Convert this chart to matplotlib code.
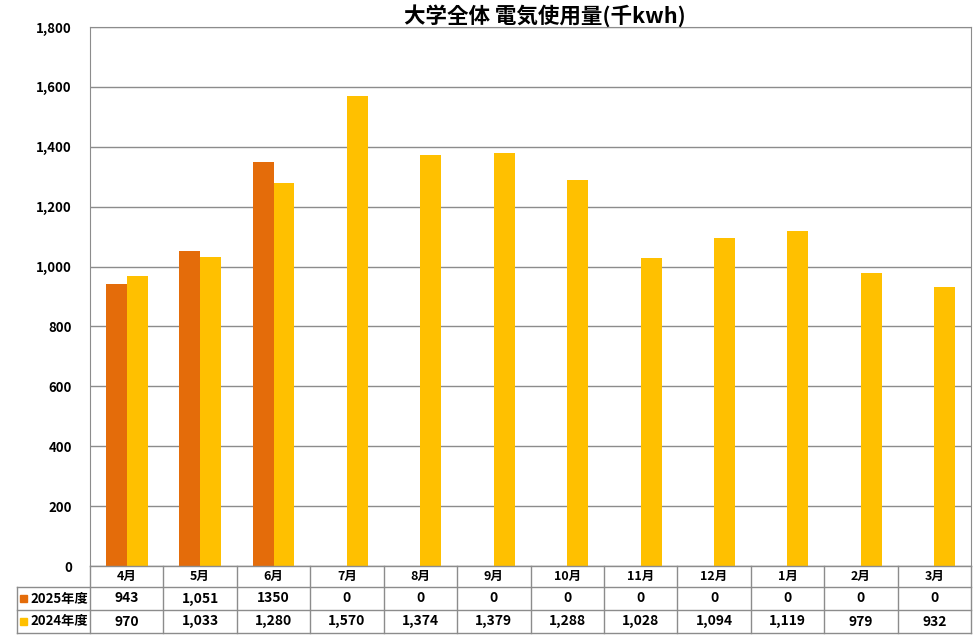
import matplotlib
matplotlib.use('Agg')
import matplotlib.pyplot as plt
import numpy as np

plt.rcParams['font.family'] = ['Noto Sans CJK JP', 'DejaVu Sans']

months = ['4月', '5月', '6月', '7月', '8月', '9月', '10月', '11月', '12月', '1月', '2月', '3月']
use_2025 = [943, 1051, 1350, 0, 0, 0, 0, 0, 0, 0, 0, 0]
use_2024 = [970, 1033, 1280, 1570, 1374, 1379, 1288, 1028, 1094, 1119, 979, 932]
# table text as shown (6月 is written without comma in the source)
text_2025 = ['943', '1,051', '1350', '0', '0', '0', '0', '0', '0', '0', '0', '0']
text_2024 = [f'{v:,}' for v in use_2024]
series = [('2025年度', use_2025, text_2025, '#E46C0A'),
          ('2024年度', use_2024, text_2024, '#FFC000')]

W, H = 977, 638
fig = plt.figure(figsize=(W / 100, H / 100), dpi=100)
x0, x1, y0, y1 = 90, 971, 566, 27
ax = fig.add_axes([x0 / W, 1 - y0 / H, (x1 - x0) / W, (y0 - y1) / H])

x = np.arange(len(months))
bw = 0.285
for k, (name, vals, _, col) in enumerate(series):
    ax.bar(x + (k - 0.5) * bw, vals, width=bw, color=col, zorder=3)

ax.set_xlim(-0.5, len(months) - 0.5)
ax.set_ylim(0, 1800)
ax.set_yticks(range(0, 1801, 200))
ax.set_yticklabels([f'{v:,}' for v in range(0, 1801, 200)], fontsize=9.5, fontweight='bold')
ax.yaxis.grid(True, color='#8c8c8c', linewidth=1, zorder=0)
ax.tick_params(axis='y', length=0, pad=13)
ax.set_xticks([])
for s in ax.spines.values():
    s.set_color('#8c8c8c')
ax.spines['bottom'].set_visible(False)

ax.set_title('大学全体 電気使用量(千kwh)', fontsize=15.5, fontweight='bold', pad=3, x=0.516)

# data table under the axes, in pixel coordinates
def px(xp, yp):
    return xp / W, 1 - yp / H

rows = [566, 587, 610, 633]
lc = '#8c8c8c'
cw = (x1 - x0) / len(months)
tl = 17
fig.add_artist(plt.Line2D(*zip(px(x0, rows[0]), px(x1, rows[0])), color=lc, lw=1))
for r in rows[1:]:
    fig.add_artist(plt.Line2D(*zip(px(tl, r), px(x1, r)), color=lc, lw=1))
for i in range(len(months) + 1):
    xv = x0 + i * cw
    fig.add_artist(plt.Line2D(*zip(px(xv, rows[0]), px(xv, rows[3])), color=lc, lw=1))
fig.add_artist(plt.Line2D(*zip(px(tl, rows[1]), px(tl, rows[3])), color=lc, lw=1))

for i, m in enumerate(months):
    xc = x0 + (i + 0.5) * cw
    fig.text(*px(xc, (rows[0] + rows[1]) / 2), m, ha='center', va='center',
             fontsize=9, fontweight='bold')
    for k, (_, _, txt, _) in enumerate(series):
        fig.text(*px(xc, (rows[k + 1] + rows[k + 2]) / 2), txt[i], ha='center', va='center',
                 fontsize=10, fontweight='bold')

for k, (name, _, _, col) in enumerate(series):
    yc = (rows[k + 1] + rows[k + 2]) / 2
    fig.patches.append(plt.Rectangle(px(20, yc + 3.5), 7 / W, 7 / H, color=col,
                                     transform=fig.transFigure, figure=fig))
    fig.text(*px(30, yc), name, ha='left', va='center', fontsize=9.5, fontweight='bold')

fig.savefig('out.png', dpi=100)
